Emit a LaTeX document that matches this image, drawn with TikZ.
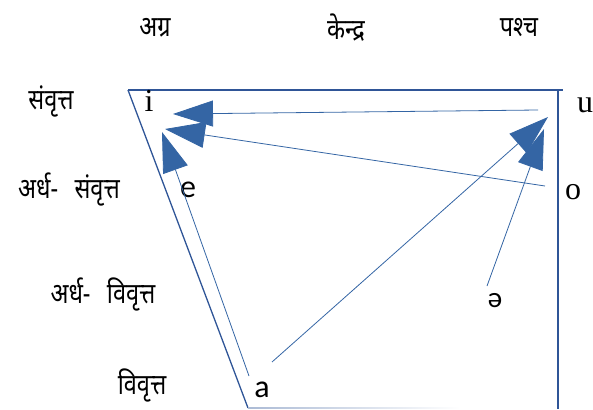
\documentclass[tikz,border=0pt]{standalone}
\usepackage{fontspec}
\setmainfont{Liberation Serif}
\newfontfamily\deva[Script=Devanagari]{Noto Sans}
\newfontfamily\calib{Carlito}
\usetikzlibrary{arrows.meta}
\definecolor{frameblue}{RGB}{47,85,151}
\definecolor{arrowblue}{RGB}{52,101,164}
\newcommand{\talltext}[1]{\scalebox{1}[1.22]{#1}}

\begin{document}
\begin{tikzpicture}[x=1pt,y=-1pt,
    lbl/.style={font=\deva\fontsize{23.5}{25}\selectfont,inner sep=0pt},
    vs/.style={font=\fontsize{32}{34}\selectfont,anchor=base,inner sep=0pt},
    vc/.style={font=\calib\fontsize{32}{34}\selectfont,anchor=base,inner sep=0pt},
    mv/.style={arrowblue,line width=0.8pt,-{Triangle[length=40pt,width=26pt]}}]
  \useasboundingbox (0,0) rectangle (593,409);
  % column heads
  \node[lbl] (front) at (155,28) {\talltext{अग्र}};
  \node[lbl] (central) at (346,28) {\talltext{केन्द्र}};
  \node[lbl] (back) at (519,28) {\talltext{पश्च}};
  % row heads
  \node[lbl] (close) at (51,101) {\talltext{संवृत्त}};
  \node[lbl] (halfclose) at (69,189) {\talltext{अर्ध-\hspace{0.7em}संवृत्त}};
  \node[lbl] (halfopen) at (103,294) {\talltext{अर्ध-\hspace{0.7em}विवृत्त}};
  \node[lbl] (open) at (142,385) {\talltext{विवृत्त}};
  % frame
  \draw[frameblue,line width=1.6pt] (128,90) -- (563,90);
  \draw[frameblue,line width=1.8pt] (558,90) -- (558,409);
  \draw[frameblue,line width=1.3pt] (128,90) -- (248,408);
  \shade[left color=frameblue!40,right color=white] (248,407.2) rectangle (460,408.8);
  % vowels
  \node[vs] (i) at (149,111) {i};
  \node[vs] (u) at (585,112) {u};
  \node[vc] (e) at (188,197) {e};
  \node[vs] (o) at (573,199) {o};
  \node[vc,font=\calib\fontsize{29}{31}\selectfont] (schwa) at (495,307) {ə};
  \node[vc] (a) at (262,397) {a};
  % arrow ends
  \coordinate (ustart) at (538,110);
  \coordinate (ostart) at (545,186);
  \coordinate (aleft) at (249,376);
  \coordinate (aright) at (272,362);
  \coordinate (schwastart) at (487,286);
  \coordinate (itip) at (173,114);
  \coordinate (itip2) at (165,129);
  \coordinate (itip3) at (162,132);
  \coordinate (utip) at (548,117);
  \coordinate (utip2) at (544,129);
  % movements
  \draw[mv] (ustart) -- (itip);
  \draw[mv] (ostart) -- (itip2);
  \draw[mv] (aleft) -- (itip3);
  \draw[mv] (aright) -- (utip);
  \draw[mv] (schwastart) -- (utip2);
\end{tikzpicture}
\end{document}
